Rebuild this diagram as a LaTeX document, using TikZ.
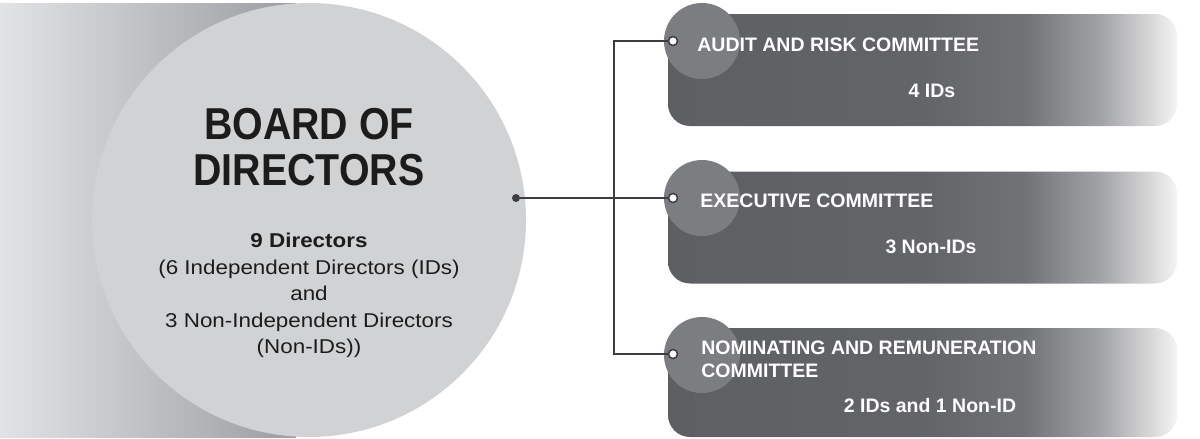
\documentclass[tikz,border=0pt]{standalone}
\usepackage{fontspec}
\setmainfont{Liberation Sans}
\newfontfamily\titlefont[FakeStretch=0.88]{Liberation Sans}
\newfontfamily\bodyfont[FakeStretch=1.12]{Liberation Sans}
\definecolor{backL}{HTML}{E2E3E5}
\definecolor{backR}{HTML}{9C9DA0}
\definecolor{boardfill}{HTML}{D1D2D4}
\definecolor{boxA}{HTML}{5E5F63}
\definecolor{boxB}{HTML}{636468}
\definecolor{boxC}{HTML}{717276}
\definecolor{boxD}{HTML}{A2A3A6}
\definecolor{boxE}{HTML}{F4F4F4}
\definecolor{badge}{HTML}{7C7D81}
\definecolor{linec}{HTML}{3E3E40}
\definecolor{darktext}{HTML}{1C1C1C}
\pgfdeclarehorizontalshading{boxshade}{100bp}{color(0bp)=(boxA); color(25bp)=(boxA); color(50bp)=(boxB); color(60bp)=(boxC); color(67.5bp)=(boxD); color(75bp)=(boxE); color(100bp)=(boxE)}
\begin{document}
\begin{tikzpicture}[x=0.5pt,y=-0.5pt,
  committee/.style={rectangle, rounded corners=11pt, shading=boxshade, draw=none,
    minimum width=254.5pt, minimum height=56pt, inner sep=0pt},
  badgecirc/.style={circle, fill=badge, draw=none, minimum size=38pt, inner sep=0pt},
  boarddot/.style={circle, fill=linec, draw=none, minimum size=4pt, inner sep=0pt},
  boxdot/.style={circle, fill=white, draw=linec, line width=0.75pt, minimum size=4.5pt, inner sep=0pt},
  conn/.style={draw=linec, line width=0.75pt},
  titletxt/.style={inner sep=0pt, anchor=base, text=darktext, font=\titlefont\bfseries\fontsize{22.35}{26}\selectfont},
  bodytxt/.style={inner sep=0pt, anchor=base, text=darktext, font=\bodyfont\fontsize{10}{12}\selectfont},
  headtxt/.style={inner sep=0pt, anchor=base west, text=white, font=\bfseries\fontsize{9.75}{11}\selectfont},
  subtxt/.style={inner sep=0pt, anchor=base, text=white, font=\bfseries\fontsize{9.75}{11}\selectfont}]
\useasboundingbox (0,0) rectangle (1200,439);
% back gradient band
\shade[left color=backL, right color=backR] (0,3) rectangle (296,437);
% board circle
\node[circle, fill=boardfill, draw=none, minimum size=217pt, inner sep=0pt] (board) at (309,220) {};
\node[titletxt] (t1) at (309,139) {BOARD OF};
\node[titletxt] (t2) at (309,185) {DIRECTORS};
\node[bodytxt, font=\bodyfont\bfseries\fontsize{10}{12}\selectfont] (l1) at (309,247) {9 Directors};
\node[bodytxt] (l2) at (309,274) {(6 Independent Directors (IDs)};
\node[bodytxt] (l3) at (309,300) {and};
\node[bodytxt] (l4) at (309,327) {3 Non-Independent Directors};
\node[bodytxt] (l5) at (309,353) {(Non-IDs))};
% committee boxes
\node[committee] (b1) at (922.5,70) {};
\node[committee] (b2) at (922.5,227.5) {};
\node[committee, minimum height=54.5pt] (b3) at (922.5,382.5) {};
% badges
\node[badgecirc] (c1) at (702,41) {};
\node[badgecirc] (c2) at (702,198) {};
\node[badgecirc] (c3) at (702,355) {};
% texts
\node[headtxt] (h1) at (697,51) {AUDIT AND RISK COMMITTEE};
\node[subtxt] (s1) at (932,97) {4 IDs};
\node[headtxt] (h2) at (700,207) {EXECUTIVE COMMITTEE};
\node[subtxt] (s2) at (931,253) {3 Non-IDs};
\node[headtxt] (h3a) at (701,354) {NOMINATING AND REMUNERATION};
\node[headtxt] (h3b) at (701,377) {COMMITTEE};
\node[subtxt] (s3) at (930,412) {2 IDs and 1 Non-ID};
% dots and connectors
\node[boarddot] (bd) at (516,198) {};
\node[boxdot] (d1) at (673,41) {};
\node[boxdot] (d2) at (673,198) {};
\node[boxdot] (d3) at (673,354) {};
\coordinate (j1) at (614,41);
\coordinate (j3) at (614,354);
\draw[conn] (bd) -- (d2);
\draw[conn] (d1) -- (j1) -- (j3) -- (d3);
\end{tikzpicture}
\end{document}
